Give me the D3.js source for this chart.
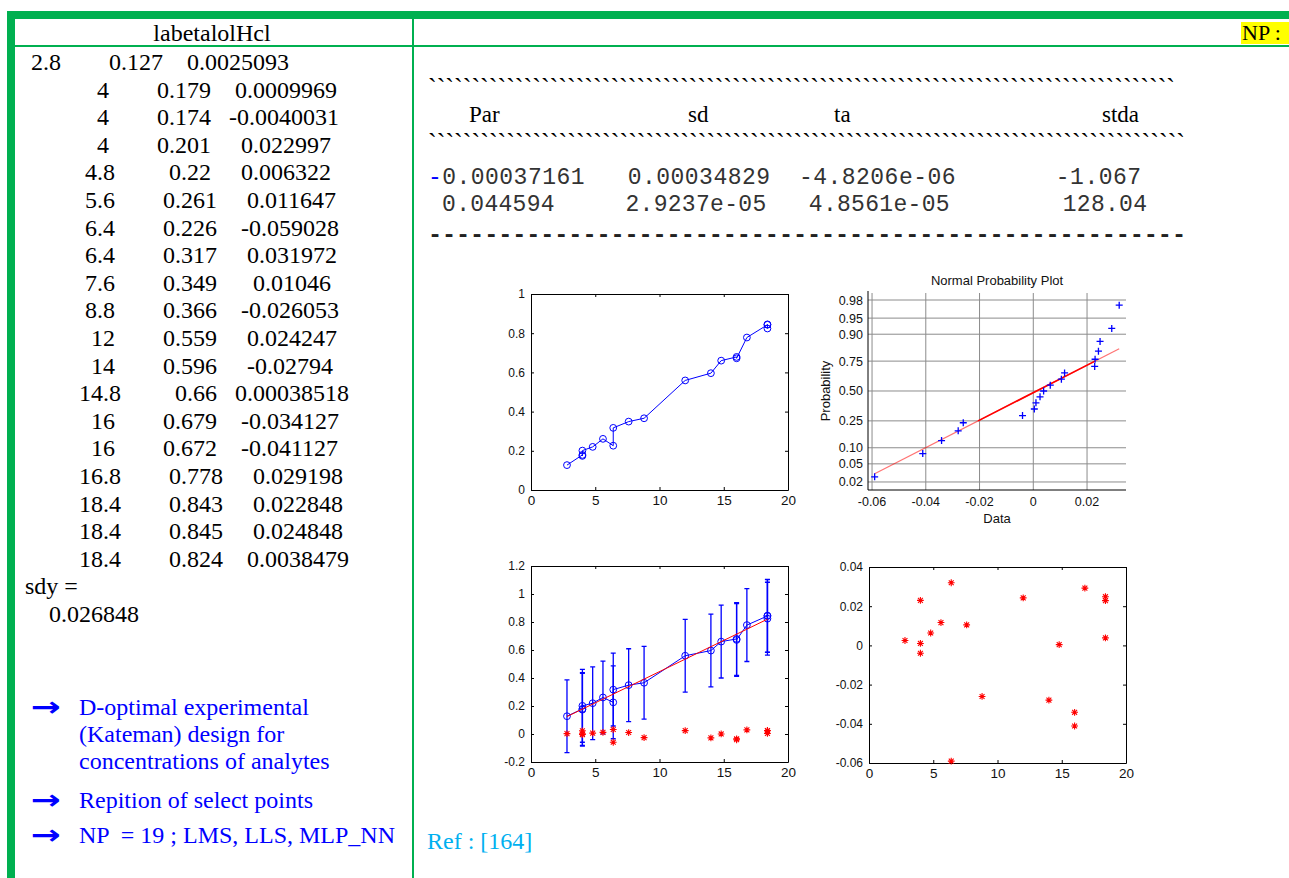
<!DOCTYPE html>
<html>
<head>
<meta charset="utf-8">
<script src="https://d3js.org/d3.v7.min.js"></script>
<style>
  body { margin: 0; background: #fff; }
  svg text { white-space: pre; }
</style>
</head>
<body>
<script>
// ---- data ----
var tableTitle = "labetalolHcl";
var conc   = [2.8, 4, 4, 4, 4.8, 5.6, 6.4, 6.4, 7.6, 8.8, 12, 14, 14.8, 16, 16, 16.8, 18.4, 18.4, 18.4];
var absorb = [0.127, 0.179, 0.174, 0.201, 0.22, 0.261, 0.226, 0.317, 0.349, 0.366, 0.559, 0.596, 0.66, 0.679, 0.672, 0.778, 0.843, 0.845, 0.824];
var resid  = [0.0025093, 0.0009969, -0.0040031, 0.022997, 0.006322, 0.011647, -0.059028, 0.031972, 0.01046, -0.026053,
              0.024247, -0.02794, 0.00038518, -0.034127, -0.041127, 0.029198, 0.022848, 0.024848, 0.0038479];
var sdy = 0.026848;

var parHeads = ["Par", "sd", "ta", "stda"];
var parCol  = [-0.00037161, 0.044594];
var sdCol   = [0.00034829, 2.9237e-05];
var taCol   = [-4.8206e-06, 4.8561e-05];
var stdaCol = [-1.067, 128.04];

var errHalf = 0.26;   // error bar half length in plot 3

var xTicks20   = [0, 5, 10, 15, 20];
var yTicksP1   = [0, 0.2, 0.4, 0.6, 0.8, 1];
var yTicksP3   = [-0.2, 0, 0.2, 0.4, 0.6, 0.8, 1, 1.2];
var yTicksP4   = [-0.06, -0.04, -0.02, 0, 0.02, 0.04];
var xTicksNP   = [-0.06, -0.04, -0.02, 0, 0.02];
var probTicks  = [0.02, 0.05, 0.10, 0.25, 0.50, 0.75, 0.90, 0.95, 0.98];

var notes = [
  ["D-optimal experimental", "(Kateman) design for", "concentrations of analytes"],
  ["Repition of select points"],
  ["NP  = 19 ; LMS, LLS, MLP_NN"]
];
var refText = "Ref : [164]";

// ---- page ----
var W = 1289, H = 878;
var green = "#00b050";
var serif = "'Liberation Serif','Times New Roman',serif";
var mono = "'Liberation Mono','Courier New',monospace";
var sans = "'Liberation Sans',Arial,sans-serif";

var svg = d3.select("body").append("svg").attr("width", W).attr("height", H);
svg.append("rect").attr("width", W).attr("height", H).attr("fill", "#fff");

// table frame
svg.append("rect").attr("x", 7).attr("y", 11).attr("width", W - 7).attr("height", 8).attr("fill", green);
svg.append("rect").attr("x", 7).attr("y", 11).attr("width", 8).attr("height", H - 11).attr("fill", green);
svg.append("rect").attr("x", 15).attr("y", 45).attr("width", W - 15).attr("height", 2).attr("fill", green);
svg.append("rect").attr("x", 412).attr("y", 19).attr("width", 2).attr("height", H - 19).attr("fill", green);

// left column: matlab output
svg.append("text").attr("x", 212).attr("y", 41).attr("text-anchor", "middle")
  .style("font", "24px " + serif).text(tableTitle);

function padL(s, n) { s = String(s); while (s.length < n) s = " " + s; return s; }
var rows = conc.map(function(c, i) { return padL(c, 13) + padL(absorb[i], 13) + padL(resid[i], 13); });
rows[0] = " " + rows[0].trimStart();
rows.push("sdy =");
rows.push(padL(sdy, 12));

svg.append("g").selectAll("text").data(rows).join("text")
  .attr("xml:space", "preserve")
  .attr("x", 25).attr("y", function(d, i) { return 70 + i * 27.6; })
  .style("font", "24px " + serif).attr("fill", "#000")
  .text(function(d) { return d; });

// notes with arrows
var noteBase = [715, 808, 843];
notes.forEach(function(lines, k) {
  svg.append("text").attr("x", 31).attr("y", noteBase[k] + 1)
    .attr("textLength", 30).attr("lengthAdjust", "spacingAndGlyphs")
    .style("font", "bold 27px 'DejaVu Sans',sans-serif").attr("fill", "#0000ff").text("\u2192");
  lines.forEach(function(t, j) {
    svg.append("text").attr("xml:space", "preserve").attr("x", 79).attr("y", noteBase[k] + j * 27)
      .style("font", "24px " + serif).attr("fill", "#0000ff").text(t);
  });
});

svg.append("text").attr("x", 427).attr("y", 849).style("font", "24px " + serif)
  .attr("fill", "#00b0f0").text(refText);

// right top: NP label
svg.append("rect").attr("x", 1241).attr("y", 22).attr("width", 48).attr("height", 22).attr("fill", "#ffff00");
svg.append("text").attr("xml:space", "preserve").attr("x", 1242).attr("y", 40)
  .style("font", "22px " + serif).text("NP :");

// parameter table
svg.append("text").attr("x", 428).attr("y", 96).attr("textLength", 747).attr("lengthAdjust", "spacing")
  .style("font", "26px " + serif).text("`".repeat(86));
svg.append("text").attr("x", 428).attr("y", 151).attr("textLength", 757).attr("lengthAdjust", "spacing")
  .style("font", "26px " + serif).text("`".repeat(87));

var headX = [469, 688, 834, 1102];
svg.append("g").selectAll("text").data(parHeads).join("text")
  .attr("x", function(d, i) { return headX[i]; }).attr("y", 122)
  .style("font", "23px " + serif).text(function(d) { return d; });

function fmtM(v) {
  if (Math.abs(v) < 1e-4) return v.toExponential(4).replace(/e([+-])(\d)$/, "e$10$2");
  return String(v);
}
var pRow1 = fmtM(parCol[0]) + "   " + fmtM(sdCol[0]) + "  " + fmtM(taCol[0]) + "       " + fmtM(stdaCol[0]);
var pRow2 = " " + fmtM(parCol[1]) + "     " + fmtM(sdCol[1]) + "   " + fmtM(taCol[1]) + "        " + fmtM(stdaCol[1]);

var t1 = svg.append("text").attr("xml:space", "preserve").attr("x", 428).attr("y", 184)
  .attr("textLength", 713).attr("lengthAdjust", "spacing")
  .style("font", "23px " + mono).attr("fill", "#333");
t1.append("tspan").attr("fill", "#0000ff").text(pRow1.charAt(0));
t1.append("tspan").text(pRow1.slice(1));
svg.append("text").attr("xml:space", "preserve").attr("x", 428).attr("y", 211)
  .attr("textLength", 719).attr("lengthAdjust", "spacing")
  .style("font", "23px " + mono).attr("fill", "#333").text(pRow2);

svg.append("text").attr("x", 428).attr("y", 242).attr("textLength", 758).attr("lengthAdjust", "spacing")
  .style("font", "bold 23.5px " + mono).attr("fill", "#222").text("-".repeat(54));

// ---- plot helpers ----
function tickFmt(d) { return String(Math.round(d * 1e6) / 1e6); }

function frame(box, x, y, xt, yt) {
  var g = svg.append("g");
  var gx = g.append("g").attr("transform", "translate(0," + box.b + ")")
    .call(d3.axisBottom(x).tickValues(xt).tickFormat(tickFmt).tickSizeInner(-3).tickSizeOuter(0).tickPadding(4));
  g.append("g").attr("transform", "translate(0," + box.t + ")")
    .call(d3.axisTop(x).tickValues(xt).tickFormat("").tickSizeInner(-3).tickSizeOuter(0));
  var gy = g.append("g").attr("transform", "translate(" + box.l + ",0)")
    .call(d3.axisLeft(y).tickValues(yt).tickFormat(tickFmt).tickSizeInner(-3).tickSizeOuter(0).tickPadding(6));
  g.append("g").attr("transform", "translate(" + box.r + ",0)")
    .call(d3.axisRight(y).tickValues(yt).tickFormat("").tickSizeInner(-3).tickSizeOuter(0));
  gy.selectAll("text").style("font", "12px " + sans).attr("fill", "#111");
  gx.selectAll("text").style("font", "13.5px " + sans).attr("fill", "#111").attr("dy", "0.8em");
  g.selectAll(".domain, .tick line").attr("stroke", "#000").attr("stroke-width", 1);
  return g;
}

function starPath(cx, cy, s) {
  var k = s * 0.72;
  return "M" + (cx - s) + "," + cy + "H" + (cx + s) +
         "M" + cx + "," + (cy - s) + "V" + (cy + s) +
         "M" + (cx - k) + "," + (cy - k) + "L" + (cx + k) + "," + (cy + k) +
         "M" + (cx - k) + "," + (cy + k) + "L" + (cx + k) + "," + (cy - k);
}

var idx = d3.range(conc.length);

// ---- plot 1: absorbance vs concentration ----
var b1 = { l: 531, r: 788, t: 294, b: 490 };
var x1 = d3.scaleLinear().domain([0, 20]).range([b1.l, b1.r]);
var y1 = d3.scaleLinear().domain([0, 1]).range([b1.b, b1.t]);
frame(b1, x1, y1, xTicks20, yTicksP1);
svg.append("path").datum(idx).attr("fill", "none").attr("stroke", "#0000ff").attr("stroke-width", 1)
  .attr("d", d3.line().x(function(i) { return x1(conc[i]); }).y(function(i) { return y1(absorb[i]); }));
svg.append("g").selectAll("circle").data(idx).join("circle")
  .attr("cx", function(i) { return x1(conc[i]); }).attr("cy", function(i) { return y1(absorb[i]); })
  .attr("r", 3.4).attr("fill", "none").attr("stroke", "#0000ff").attr("stroke-width", 1);

// ---- plot 2: normal probability plot of residuals ----
function norminv(p) {
  var a = [-3.969683028665376e+01, 2.209460984245205e+02, -2.759285104469687e+02, 1.383577518672690e+02, -3.066479806614716e+01, 2.506628277459239e+00];
  var b = [-5.447609879822406e+01, 1.615858368580409e+02, -1.556989798598866e+02, 6.680131188771972e+01, -1.328068155288572e+01];
  var c = [-7.784894002430293e-03, -3.223964580411365e-01, -2.400758277161838e+00, -2.549732539343734e+00, 4.374664141464968e+00, 2.938163982698783e+00];
  var d = [7.784695709041462e-03, 3.224671290700398e-01, 2.445134137142996e+00, 3.754408661907416e+00];
  var q, r;
  if (p < 0.02425) {
    q = Math.sqrt(-2 * Math.log(p));
    return (((((c[0]*q+c[1])*q+c[2])*q+c[3])*q+c[4])*q+c[5]) / ((((d[0]*q+d[1])*q+d[2])*q+d[3])*q+1);
  }
  if (p > 1 - 0.02425) {
    q = Math.sqrt(-2 * Math.log(1 - p));
    return -(((((c[0]*q+c[1])*q+c[2])*q+c[3])*q+c[4])*q+c[5]) / ((((d[0]*q+d[1])*q+d[2])*q+d[3])*q+1);
  }
  q = p - 0.5; r = q * q;
  return (((((a[0]*r+a[1])*r+a[2])*r+a[3])*r+a[4])*r+a[5])*q / (((((b[0]*r+b[1])*r+b[2])*r+b[3])*r+b[4])*r+1);
}

var b2 = { l: 868, r: 1126, t: 293, b: 490 };
var x2 = d3.scaleLinear().domain([-0.0615, 0.0345]).range([b2.l, b2.r]);
var z2 = d3.scaleLinear().domain([-2.235, 2.212]).range([b2.b, b2.t]);
var g2 = svg.append("g");
g2.selectAll("line.hg").data(probTicks).join("line").attr("class", "hg")
  .attr("x1", b2.l).attr("x2", b2.r)
  .attr("y1", function(p) { return z2(norminv(p)); }).attr("y2", function(p) { return z2(norminv(p)); })
  .attr("stroke", "#8c8c8c").attr("stroke-width", 1);
g2.selectAll("line.vg").data(xTicksNP).join("line").attr("class", "vg")
  .attr("x1", function(v) { return x2(v); }).attr("x2", function(v) { return x2(v); })
  .attr("y1", b2.t).attr("y2", b2.b)
  .attr("stroke", "#8c8c8c").attr("stroke-width", 1);
g2.append("line").attr("x1", b2.l).attr("x2", b2.l).attr("y1", b2.t - 2).attr("y2", b2.b).attr("stroke", "#000");
g2.append("line").attr("x1", b2.l).attr("x2", b2.r).attr("y1", b2.b).attr("y2", b2.b).attr("stroke", "#000");
g2.selectAll("text.yl").data(probTicks).join("text").attr("class", "yl")
  .attr("x", b2.l - 5).attr("y", function(p) { return z2(norminv(p)) + 4.5; })
  .attr("text-anchor", "end").style("font", "12.5px " + sans).attr("fill", "#111")
  .text(function(p) { return p.toFixed(2); });
g2.selectAll("text.xl").data(xTicksNP).join("text").attr("class", "xl")
  .attr("x", function(v) { return x2(v); }).attr("y", b2.b + 16)
  .attr("text-anchor", "middle").style("font", "12.5px " + sans).attr("fill", "#111")
  .text(tickFmt);
g2.append("text").attr("x", (b2.l + b2.r) / 2).attr("y", 285).attr("text-anchor", "middle")
  .style("font", "13px " + sans).attr("fill", "#111").text("Normal Probability Plot");
g2.append("text").attr("x", (b2.l + b2.r) / 2).attr("y", 523).attr("text-anchor", "middle")
  .style("font", "13px " + sans).attr("fill", "#111").text("Data");
g2.append("text").attr("transform", "translate(830," + z2(0) + ") rotate(-90)").attr("text-anchor", "middle")
  .style("font", "13px " + sans).attr("fill", "#111").text("Probability");

var sorted = resid.slice().sort(d3.ascending);
var n = sorted.length;
function prctile(arr, p) {           // matlab style percentile
  var pos = n * p + 0.5, lo = Math.floor(pos), f = pos - lo;
  return arr[lo - 1] + f * (arr[lo] - arr[lo - 1]);
}
var q1 = prctile(sorted, 0.25), q3 = prctile(sorted, 0.75);
var z1q = norminv(0.25), z3q = norminv(0.75);
function refZ(v) { return z1q + (v - q1) * (z3q - z1q) / (q3 - q1); }
var xmin = sorted[0], xmax = sorted[n - 1];
g2.append("line").attr("x1", x2(xmin)).attr("y1", z2(refZ(xmin))).attr("x2", x2(xmax)).attr("y2", z2(refZ(xmax)))
  .attr("stroke", "#ff0000").attr("stroke-opacity", 0.55).attr("stroke-width", 1.2);
g2.append("line").attr("x1", x2(q1)).attr("y1", z2(refZ(q1))).attr("x2", x2(q3)).attr("y2", z2(refZ(q3)))
  .attr("stroke", "#ff0000").attr("stroke-width", 1.6);
g2.selectAll("path.pl").data(sorted).join("path").attr("class", "pl")
  .attr("d", function(v, i) {
    var cx = x2(v), cy = z2(norminv((i + 0.5) / n)), s = 3.5;
    return "M" + (cx - s) + "," + cy + "H" + (cx + s) + "M" + cx + "," + (cy - s) + "V" + (cy + s);
  })
  .attr("stroke", "#0000ff").attr("stroke-width", 1.3).attr("fill", "none");

// ---- plot 3: fit with error bars and residuals ----
var b3 = { l: 531, r: 788, t: 566, b: 762 };
var x3 = d3.scaleLinear().domain([0, 20]).range([b3.l, b3.r]);
var y3 = d3.scaleLinear().domain([-0.2, 1.2]).range([b3.b, b3.t]);
frame(b3, x3, y3, xTicks20, yTicksP3);
var g3 = svg.append("g");
g3.selectAll("path.eb").data(idx).join("path").attr("class", "eb")
  .attr("d", function(i) {
    var cx = x3(conc[i]), lo = y3(absorb[i] - errHalf), hi = y3(absorb[i] + errHalf);
    return "M" + cx + "," + lo + "V" + hi + "M" + (cx - 2.5) + "," + lo + "H" + (cx + 2.5) +
           "M" + (cx - 2.5) + "," + hi + "H" + (cx + 2.5);
  })
  .attr("stroke", "#0000ff").attr("stroke-width", 1.3).attr("fill", "none");
g3.append("path").datum(idx).attr("fill", "none").attr("stroke", "#0000ff").attr("stroke-width", 1)
  .attr("d", d3.line().x(function(i) { return x3(conc[i]); }).y(function(i) { return y3(absorb[i]); }));
g3.selectAll("circle").data(idx).join("circle")
  .attr("cx", function(i) { return x3(conc[i]); }).attr("cy", function(i) { return y3(absorb[i]); })
  .attr("r", 3.4).attr("fill", "none").attr("stroke", "#0000ff").attr("stroke-width", 1);
var cmin = d3.min(conc), cmax = d3.max(conc);
g3.append("line")
  .attr("x1", x3(cmin)).attr("y1", y3(parCol[0] + parCol[1] * cmin))
  .attr("x2", x3(cmax)).attr("y2", y3(parCol[0] + parCol[1] * cmax))
  .attr("stroke", "#ff0000").attr("stroke-width", 1);
g3.selectAll("path.st").data(idx).join("path").attr("class", "st")
  .attr("d", function(i) { return starPath(x3(conc[i]), y3(resid[i]), 3.4); })
  .attr("stroke", "#ff0000").attr("stroke-width", 1.1).attr("fill", "none");

// ---- plot 4: residuals ----
var b4 = { l: 869, r: 1126, t: 567, b: 763 };
var x4 = d3.scaleLinear().domain([0, 20]).range([b4.l, b4.r]);
var y4 = d3.scaleLinear().domain([-0.06, 0.04]).range([b4.b, b4.t]);
frame(b4, x4, y4, xTicks20, yTicksP4);
svg.append("g").selectAll("path").data(idx).join("path")
  .attr("d", function(i) { return starPath(x4(conc[i]), y4(resid[i]), 3.4); })
  .attr("stroke", "#ff0000").attr("stroke-width", 1.1).attr("fill", "none");
</script>
</body>
</html>
